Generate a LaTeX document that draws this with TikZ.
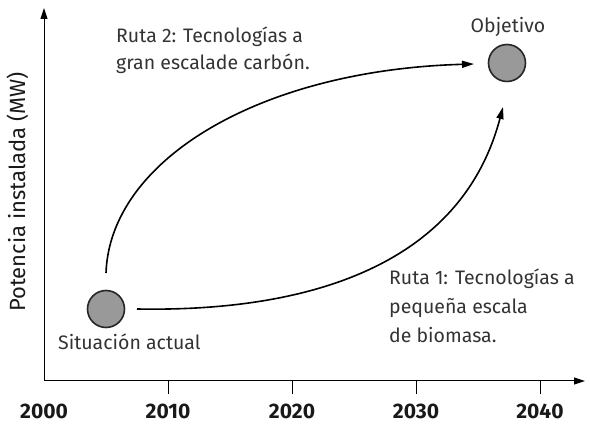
\documentclass[tikz,border=0pt]{standalone}
\usepackage{fontspec}
\setmainfont{Fira Sans}
\usetikzlibrary{arrows.meta}
\begin{document}
\begin{tikzpicture}[x=1pt,y=-1pt,
  axis/.style={line width=1pt,-{Triangle[length=11pt,width=7pt]}},
  route/.style={line width=1.6pt,-{Triangle[length=12pt,width=7pt]}},
  state/.style={circle,draw=black!85,line width=1.6pt,fill=black!40,minimum size=37pt,inner sep=0pt},
  lbl/.style={font=\fontsize{19.5}{24}\selectfont\color{black!80},inner sep=0pt,anchor=base west},
  year/.style={font=\fontsize{21}{24}\selectfont\bfseries\color{black!90},inner sep=0pt,anchor=base},
  tick/.style={line width=1pt}]
\useasboundingbox (0,0) rectangle (590,427);
\coordinate (O) at (44,381);
\coordinate (ytop) at (44,8);
\coordinate (xend) at (585,381);
\draw[axis] (O) -- (ytop);
\draw[axis] (O) -- (xend);
\foreach \x/\n in {168/t1,292/t2,416/t3,540/t4}{
  \coordinate (\n a) at (\x,381);
  \coordinate (\n b) at (\x,394);
  \draw[tick] (\n a) -- (\n b);
}
\node[year] (y0) at (44,419) {2000};
\node[year] (y1) at (168,419) {2010};
\node[year] (y2) at (292,419) {2020};
\node[year] (y3) at (416,419) {2030};
\node[year] (y4) at (540,419) {2040};
\node[font=\fontsize{22}{24}\selectfont\color{black!90},rotate=90,inner sep=0pt,anchor=base] (ylab) at (25,192) {Potencia instalada (MW)};
\node[state] (sa) at (106,309) {};
\node[state] (ob) at (507,63) {};
\node[lbl] (salab) at (58,350) {Situación actual};
\node[lbl,anchor=base] (oblab) at (508,33) {Objetivo};
\node[lbl] (r2a) at (116,43) {Ruta 2: Tecnologías a};
\node[lbl] (r2b) at (116,70) {gran escalade carbón.};
\node[lbl] (r1a) at (389,285) {Ruta 1: Tecnologías a};
\node[lbl] (r1b) at (389,314) {pequeña escala};
\node[lbl] (r1c) at (389,343) {de biomasa.};
\coordinate (r2s) at (106,273);
\coordinate (r2e) at (474,64);
\coordinate (r1s) at (137,309);
\coordinate (r1e) at (503,107);
\draw[route] (r2s) .. controls (110,160) and (260,70) .. (r2e);
\draw[route] (r1s) .. controls (300,312) and (460,270) .. (r1e);
\end{tikzpicture}
\end{document}
